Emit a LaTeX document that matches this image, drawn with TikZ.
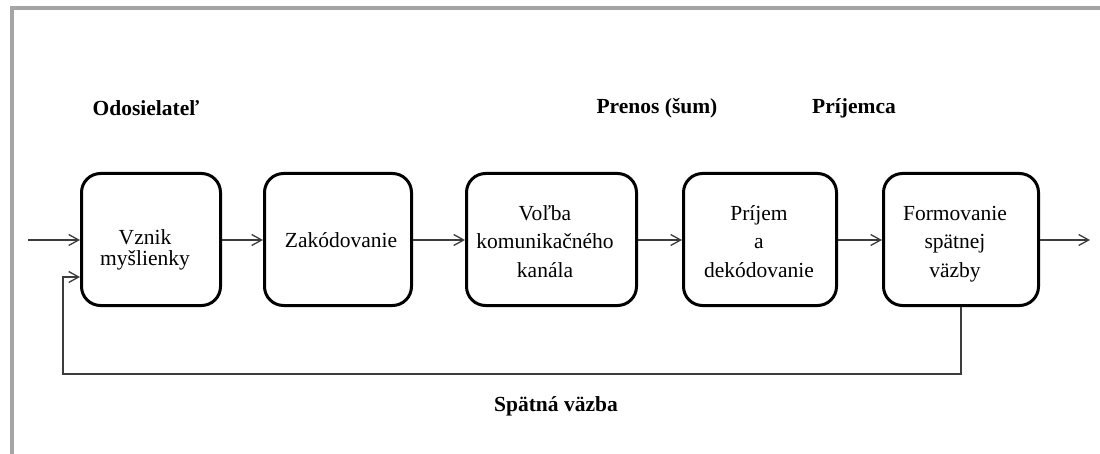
\documentclass[tikz,border=0pt]{standalone}
\usepackage{fontspec}
\setmainfont{Liberation Serif}
\usetikzlibrary{arrows.meta}
\tikzset{
  box/.style={draw=black, line width=3pt, rounded corners=19pt, minimum height=132pt, inner sep=0pt, fill=white},
  btext/.style={align=center, font=\fontsize{21.5}{29}\selectfont, inner sep=0pt},
  head/.style={font=\fontsize{21.5}{26}\selectfont\bfseries, inner sep=0pt},
  conn/.style={draw={rgb,255:red,60;green,60;blue,60}, line width=1.3pt},
  arr/.style={conn, -{Straight Barb[length=10pt,width=11pt,line width=1.3pt]}},
  frameline/.style={draw={rgb,255:red,165;green,165;blue,165}, line width=3.5pt}
}
\begin{document}
\begin{tikzpicture}[x=1pt,y=-1pt]
\useasboundingbox (0,0) rectangle (1100,454);
% frame
\draw[frameline] (12,454) -- (12,8) -- (1100,8);
% boxes
\node[box, minimum width=139pt] (b1) at (151,239.5) {};
\node[box, minimum width=147pt] (b2) at (338,239.5) {};
\node[box, minimum width=170pt] (b3) at (551.5,239.5) {};
\node[box, minimum width=153pt] (b4) at (760,239.5) {};
\node[box, minimum width=155pt] (b5) at (961,239.5) {};
% box texts (anchor base = baseline of the last line)
\node[btext, font=\fontsize{21.5}{21}\selectfont, anchor=base] (t1) at (145,266) {Vznik\\myšlienky};
\node[btext, anchor=base] (t2) at (341,248) {Zakódovanie};
\node[btext, anchor=base] (t3) at (545,278) {Voľba\\komunikačného\\kanála};
\node[btext, anchor=base] (t4) at (759,278) {Príjem\\a\\dekódovanie};
\node[btext, anchor=base] (t5) at (955,278) {Formovanie\\spätnej\\väzby};
% headings
\node[head] (h1) at (146,108) {Odosielateľ};
\node[head] (h2) at (657,108) {Prenos (šum)};
\node[head] (h3) at (854,108) {Príjemca};
\node[head] (h4) at (556,406) {Spätná väzba};
% connectors
\coordinate (in) at (28,240);
\coordinate (out) at (1090,240);
\coordinate (fb1) at (63,374);
\coordinate (fb2) at (63,277);
\draw[arr] (in) -- (b1.west |- in);
\draw[arr] (b1.east |- in) -- (b2.west |- in);
\draw[arr] (b2.east |- in) -- (b3.west |- in);
\draw[arr] (b3.east |- in) -- (b4.west |- in);
\draw[arr] (b4.east |- in) -- (b5.west |- in);
\draw[arr] (b5.east |- in) -- (out);
\draw[arr] (b5.south) |- (fb1) -- (fb2) -- (b1.west |- fb2);
\end{tikzpicture}
\end{document}
